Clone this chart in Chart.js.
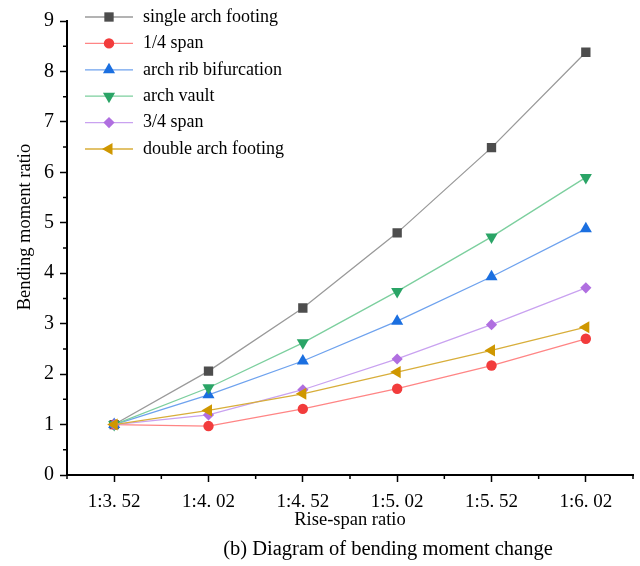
<!DOCTYPE html>
<html>
<head>
<meta charset="utf-8">
<script src="https://cdn.jsdelivr.net/npm/chart.js@4.4.0/dist/chart.umd.min.js"></script>
<style>
  html, body { margin: 0; padding: 0; background: #ffffff; }
  .chart-container { position: relative; width: 640px; height: 566px; }
</style>
</head>
<body>
<div class="chart-container"><canvas id="momentChart"></canvas></div>
<script>
const ratioLabels = ['1:3. 52', '1:4. 02', '1:4. 52', '1:5. 02', '1:5. 52', '1:6. 02'];

const singleArchFooting = [1.00, 2.06, 3.31, 4.80, 6.49, 8.38];
const quarterSpan = [1.00, 0.97, 1.31, 1.71, 2.17, 2.70];
const archRibBifurcation = [1.00, 1.59, 2.26, 3.05, 3.93, 4.88];
const archVault = [1.00, 1.73, 2.62, 3.64, 4.72, 5.90];
const threeQuarterSpan = [1.00, 1.19, 1.69, 2.30, 2.98, 3.71];
const doubleArchFooting = [1.00, 1.28, 1.61, 2.04, 2.47, 2.93];

const yTickValues = [0, 1, 2, 3, 4, 5, 6, 7, 8, 9];

const SERIF = "'Liberation Serif', 'Times New Roman', serif";

Chart.defaults.color = '#000000';
Chart.defaults.font.family = SERIF;

function series(label, data, marker, line, pointStyle, rotation, radius, i) {
  return {
    label: label,
    data: data,
    borderColor: line,
    backgroundColor: marker,
    pointBackgroundColor: marker,
    pointBorderColor: marker,
    pointBorderWidth: 0,
    borderWidth: 1.3,
    pointStyle: pointStyle,
    pointRotation: rotation,
    pointRadius: radius,
    pointHoverRadius: radius,
    tension: 0,
    fill: false,
    order: 5 - i
  };
}

const datasets = [
  series('single arch footing', singleArchFooting, '#4d4d4d', '#9a9a9a', 'rect', 0, 6.6, 0),
  series('1/4 span', quarterSpan, '#f23c3c', '#ff8585', 'circle', 0, 5.2, 1),
  series('arch rib bifurcation', archRibBifurcation, '#1b6fe0', '#6ea2ee', 'triangle', 0, 7, 2),
  series('arch vault', archVault, '#2aa466', '#7ccf9e', 'triangle', 180, 7, 3),
  series('3/4 span', threeQuarterSpan, '#b06fe0', '#c9a2f0', 'rectRot', 0, 5.6, 4),
  series('double arch footing', doubleArchFooting, '#cf9700', '#d8ae3a', 'triangle', 270, 7, 5)
];

// Origin-style legend (line + marker) inside the plot, y title and the figure caption
const legendAndCaption = {
  id: 'legendAndCaption',
  afterDraw(chart) {
    const ctx = chart.ctx;
    ctx.save();
    chart.data.datasets.forEach((ds, i) => {
      const y = 17 + i * 26.4;
      ctx.strokeStyle = ds.borderColor;
      ctx.lineWidth = 1.3;
      ctx.beginPath();
      ctx.moveTo(85, y);
      ctx.lineTo(133, y);
      ctx.stroke();
      ctx.fillStyle = ds.pointBackgroundColor;
      ctx.strokeStyle = ds.pointBorderColor;
      Chart.helpers.drawPoint(ctx, {
        pointStyle: ds.pointStyle,
        radius: ds.pointRadius,
        rotation: ds.pointRotation,
        borderWidth: 0
      }, 109, y);
      ctx.fillStyle = '#000000';
      ctx.font = '18px ' + SERIF;
      ctx.textAlign = 'left';
      ctx.textBaseline = 'middle';
      ctx.fillText(ds.label, 143, y);
    });

    ctx.font = '18.5px ' + SERIF;
    ctx.textAlign = 'center';
    ctx.textBaseline = 'middle';
    ctx.translate(25, 227);
    ctx.rotate(-Math.PI / 2);
    ctx.fillText('Bending moment ratio', 0, 0);
    ctx.setTransform(1, 0, 0, 1, 0, 0);

    ctx.font = '20.5px ' + SERIF;
    ctx.textAlign = 'center';
    ctx.fillText('(b) Diagram of bending moment change', 388, 550);
    ctx.restore();
  }
};

// minor ticks between the labelled ones
const minorTicks = {
  id: 'minorTicks',
  afterDraw(chart) {
    const ctx = chart.ctx;
    const xs = chart.scales.x;
    const ys = chart.scales.y;
    const area = chart.chartArea;
    ctx.save();
    ctx.strokeStyle = '#000000';
    ctx.lineWidth = 1.5;
    ctx.beginPath();
    for (let v = 0.5; v < 9; v += 1) {
      const py = ys.getPixelForValue(v);
      ctx.moveTo(area.left, py);
      ctx.lineTo(area.left - 4, py);
    }
    const bounds = [area.left, area.right];
    for (let i = 0; i < ratioLabels.length - 1; i++) {
      bounds.push((xs.getPixelForValue(i) + xs.getPixelForValue(i + 1)) / 2);
    }
    bounds.forEach(px => {
      ctx.moveTo(px, area.bottom);
      ctx.lineTo(px, area.bottom + 4);
    });
    ctx.stroke();
    ctx.restore();
  }
};

function renderMomentChart() {
  const canvas = document.getElementById('momentChart');
  const ctx = canvas.getContext('2d');

  new Chart(ctx, {
    type: 'line',
    data: { labels: ratioLabels, datasets: datasets },
    options: {
      responsive: false,
      animation: false,
      events: [],
      layout: { padding: { left: 0, right: 7, top: 21, bottom: 0 } },
      plugins: {
        legend: { display: false },
        tooltip: { enabled: false },
        title: { display: false }
      },
      scales: {
        x: {
          type: 'category',
          offset: true,
          afterFit: scale => { scale.height = 91; },
          title: {
            display: true,
            text: 'Rise-span ratio',
            font: { size: 18.5 },
            padding: { top: 0, bottom: 35 }
          },
          ticks: { font: { size: 19 }, padding: 9, maxRotation: 0, autoSkip: false },
          grid: {
            offset: false,
            drawOnChartArea: false,
            drawTicks: true,
            tickLength: 7,
            tickWidth: 1.5,
            tickColor: '#000000'
          },
          border: { color: '#000000', width: 2 }
        },
        y: {
          type: 'linear',
          min: 0,
          max: 9,
          afterFit: scale => { scale.width = 67; },
          afterBuildTicks: scale => { scale.ticks = yTickValues.map(v => ({ value: v })); },
          ticks: { font: { size: 20 }, padding: 6 },
          grid: {
            drawOnChartArea: false,
            drawTicks: true,
            tickLength: 7,
            tickWidth: 1.5,
            tickColor: '#000000'
          },
          border: { color: '#000000', width: 2 }
        }
      }
    },
    plugins: [legendAndCaption, minorTicks]
  });
}

document.addEventListener('DOMContentLoaded', () => {
  const canvas = document.getElementById('momentChart');
  canvas.width = 640;
  canvas.height = 566;
  renderMomentChart();
});
</script>
</body>
</html>
